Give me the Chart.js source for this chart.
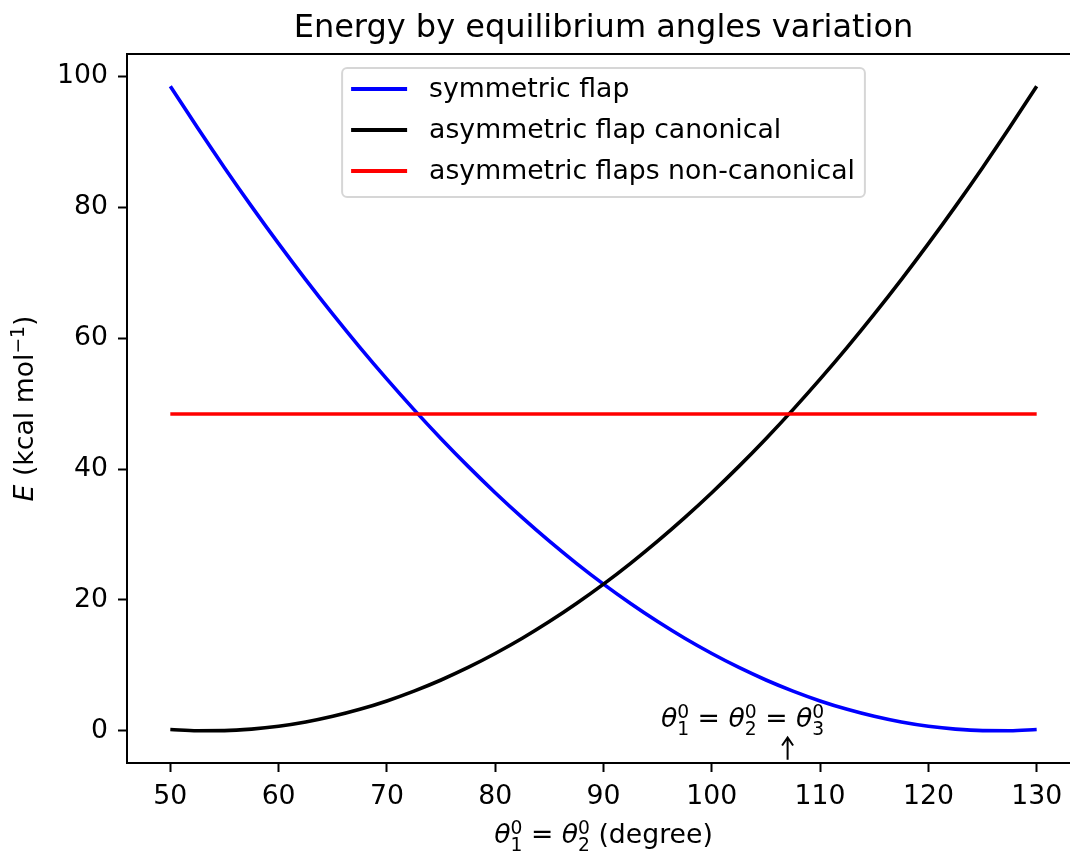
<!DOCTYPE html>
<html>
<head>
<meta charset="utf-8">
<title>Energy by equilibrium angles variation</title>
<script src="https://cdn.jsdelivr.net/npm/chart.js@4.4.1/dist/chart.umd.min.js"></script>
<style>
    html, body { margin: 0; padding: 0; background: #fff; overflow: hidden; }
    #wrap { width: 1070px; height: 855px; overflow: hidden; }
    canvas { display: block; }
</style>
</head>
<body>
<div id="wrap"><canvas id="energyChart" width="1100" height="855"></canvas></div>
<script>
// values
const angles = [50, 52.5, 55, 57.5, 60, 62.5, 65, 67.5, 70, 72.5, 75, 77.5, 80, 82.5, 85, 87.5,
    90, 92.5, 95, 97.5, 100, 102.5, 105, 107.5, 110, 112.5, 115, 117.5, 120, 122.5, 125, 127.5, 130];
const symmetricFlap = [98.49, 92.16, 86.04, 80.13, 74.43, 68.94, 63.66, 58.59, 53.73, 49.08, 44.64, 40.41,
    36.39, 32.58, 28.99, 25.60, 22.42, 19.46, 16.70, 14.15, 11.82, 9.69, 7.78, 6.08, 4.58, 3.30, 2.23,
    1.36, 0.71, 0.27, 0.04, 0.02, 0.21];
const asymmetricCanonical = [0.21, 0.02, 0.04, 0.27, 0.71, 1.36, 2.23, 3.30, 4.58, 6.08, 7.78, 9.69,
    11.82, 14.15, 16.70, 19.46, 22.42, 25.60, 28.99, 32.58, 36.39, 40.41, 44.64, 49.08, 53.73, 58.59,
    63.66, 68.94, 74.43, 80.13, 86.04, 92.16, 98.49];
const nonCanonicalAngles = [50, 130];
const nonCanonicalEnergy = [48.4, 48.4];

const xTickValues = [50, 60, 70, 80, 90, 100, 110, 120, 130];
const yTickValues = [0, 20, 40, 60, 80, 100];

const seriesNames = ["symmetric flap", "asymmetric flap canonical", "asymmetric flaps non-canonical"];
const seriesColors = ["#0000ff", "#000000", "#ff0000"];

// annotation: text anchor and the small arrow under it
const noteAngle = 95.3;
const noteEnergy = 0.6;
const arrowAngle = 107;
const arrowFrom = -4.4;
const arrowTo = -1.0;

const FONT = '"DejaVu Sans", sans-serif';
const BASE = 26.7;

function fontStr(size, italic) {
    return (italic ? "italic " : "") + size + "px " + FONT;
}

function partWidth(ctx, p, size) {
    if (p.t !== undefined) {
        ctx.font = fontStr(size, p.it);
        return ctx.measureText(p.t).width;
    }
    ctx.font = fontStr(size * 0.7, false);
    const a = p.sup ? ctx.measureText(p.sup).width : 0;
    const b = p.sub ? ctx.measureText(p.sub).width : 0;
    return Math.max(a, b);
}

function drawMath(ctx, parts, x, y, size, align) {
    let total = 0;
    parts.forEach(p => { total += partWidth(ctx, p, size); });
    let cx = align === "center" ? x - total / 2 : x;
    ctx.textAlign = "left";
    ctx.textBaseline = "alphabetic";
    parts.forEach(p => {
        const w = partWidth(ctx, p, size);
        if (p.t !== undefined) {
            ctx.font = fontStr(size, p.it);
            ctx.fillText(p.t, cx, y);
        } else {
            ctx.font = fontStr(size * 0.7, false);
            if (p.sup) ctx.fillText(p.sup, cx, y - size * 0.32);
            if (p.sub) ctx.fillText(p.sub, cx, y + size * 0.3);
        }
        cx += w;
    });
}

const xLabelParts = [
    { t: "θ", it: true }, { sub: "1", sup: "0" }, { t: " = " },
    { t: "θ", it: true }, { sub: "2", sup: "0" }, { t: " (degree)" }
];
const yLabelParts = [{ t: "E", it: true }, { t: " (kcal mol" }, { sup: "−1" }, { t: ")" }];
const noteParts = [
    { t: "θ", it: true }, { sub: "1", sup: "0" }, { t: " = " },
    { t: "θ", it: true }, { sub: "2", sup: "0" }, { t: " = " },
    { t: "θ", it: true }, { sub: "3", sup: "0" }
];

const decorations = {
    id: "decorations",
    afterDraw(chart) {
        const ctx = chart.ctx;
        const area = chart.chartArea;
        const xs = chart.scales.x;
        const ys = chart.scales.y;
        ctx.save();
        ctx.fillStyle = "#000";
        ctx.strokeStyle = "#000";

        // top spine
        ctx.lineWidth = 2;
        ctx.beginPath();
        ctx.moveTo(area.left - 1, area.top);
        ctx.lineTo(area.right, area.top);
        ctx.stroke();

        // annotation and arrow
        drawMath(ctx, noteParts, xs.getPixelForValue(noteAngle), ys.getPixelForValue(noteEnergy), BASE, "left");
        const ax = xs.getPixelForValue(arrowAngle);
        const ay0 = ys.getPixelForValue(arrowFrom);
        const ay1 = ys.getPixelForValue(arrowTo);
        ctx.lineWidth = 2;
        ctx.beginPath();
        ctx.moveTo(ax, ay0);
        ctx.lineTo(ax, ay1);
        ctx.moveTo(ax - 5.5, ay1 + 8);
        ctx.lineTo(ax, ay1);
        ctx.lineTo(ax + 5.5, ay1 + 8);
        ctx.stroke();

        // axis labels
        drawMath(ctx, xLabelParts, (area.left + area.right) / 2, 843, BASE, "center");
        ctx.save();
        ctx.translate(33, (area.top + area.bottom) / 2);
        ctx.rotate(-Math.PI / 2);
        drawMath(ctx, yLabelParts, 0, 0, BASE, "center");
        ctx.restore();

        // legend
        ctx.font = fontStr(BASE, false);
        const textW = Math.max(...seriesNames.map(n => ctx.measureText(n).width));
        const boxW = 10 + 56 + 21 + textW + 10;
        const boxH = 129;
        const boxX = (area.left + area.right) / 2 - boxW / 2;
        const boxY = area.top + 14;
        ctx.beginPath();
        ctx.roundRect(boxX, boxY, boxW, boxH, 5);
        ctx.fillStyle = "rgba(255,255,255,0.8)";
        ctx.fill();
        ctx.strokeStyle = "#d6d6d6";
        ctx.lineWidth = 2;
        ctx.stroke();
        seriesNames.forEach((name, i) => {
            const rowY = boxY + 21 + i * 41;
            ctx.strokeStyle = seriesColors[i];
            ctx.lineWidth = 3.8;
            ctx.beginPath();
            ctx.moveTo(boxX + 9, rowY);
            ctx.lineTo(boxX + 65, rowY);
            ctx.stroke();
            ctx.fillStyle = "#000";
            ctx.font = fontStr(BASE, false);
            ctx.textAlign = "left";
            ctx.textBaseline = "middle";
            ctx.fillText(name, boxX + 87, rowY + 1);
        });
        ctx.restore();
    }
};

function toPoints(xv, yv) {
    return xv.map((x, i) => ({ x: x, y: yv[i] }));
}

const tickFont = { family: FONT, size: BASE };

new Chart(document.getElementById("energyChart"), {
    type: "line",
    data: {
        datasets: [
            {
                label: seriesNames[0],
                data: toPoints(angles, symmetricFlap),
                borderColor: seriesColors[0],
                order: 2
            },
            {
                label: seriesNames[1],
                data: toPoints(angles, asymmetricCanonical),
                borderColor: seriesColors[1],
                order: 1
            },
            {
                label: seriesNames[2],
                data: toPoints(nonCanonicalAngles, nonCanonicalEnergy),
                borderColor: seriesColors[2],
                order: 0
            }
        ]
    },
    options: {
        responsive: false,
        animation: false,
        devicePixelRatio: 1,
        layout: { padding: { left: 0, right: 20, top: 0, bottom: 0 } },
        datasets: {
            line: {
                borderWidth: 3.6,
                pointRadius: 0,
                fill: false,
                cubicInterpolationMode: "monotone"
            }
        },
        scales: {
            x: {
                type: "linear",
                min: 46,
                max: 134,
                afterBuildTicks: s => { s.ticks = xTickValues.map(v => ({ value: v })); },
                afterFit: s => { s.height = 92; },
                ticks: { font: tickFont, color: "#000", padding: 9, maxRotation: 0, autoSkip: false },
                grid: { drawOnChartArea: false, drawTicks: true, tickLength: 9, tickWidth: 2, tickColor: "#000" },
                border: { display: true, color: "#000", width: 2 }
            },
            y: {
                type: "linear",
                min: -4.9,
                max: 103.4,
                afterBuildTicks: s => { s.ticks = yTickValues.map(v => ({ value: v })); },
                afterFit: s => { s.width = 127; },
                ticks: { font: tickFont, color: "#000", padding: 10, autoSkip: false },
                grid: { drawOnChartArea: false, drawTicks: true, tickLength: 9, tickWidth: 2, tickColor: "#000" },
                border: { display: true, color: "#000", width: 2 }
            }
        },
        plugins: {
            legend: { display: false },
            tooltip: { enabled: false },
            title: {
                display: true,
                text: "Energy by equilibrium angles variation",
                color: "#000",
                fullSize: false,
                font: { family: FONT, size: 32, weight: "normal" },
                padding: { top: 9.3, bottom: 6.3 }
            }
        }
    },
    plugins: [decorations]
});
</script>
</body>
</html>
